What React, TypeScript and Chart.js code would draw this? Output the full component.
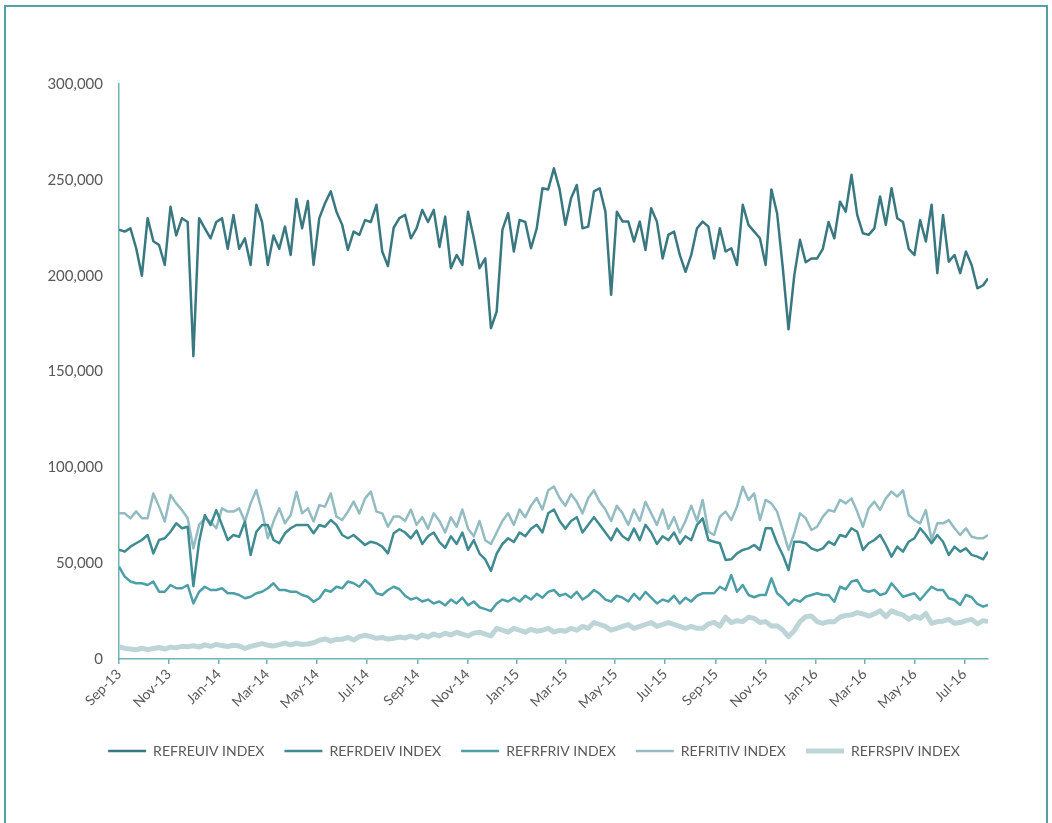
import React, { useEffect, useRef } from "react";
import { Chart, registerables } from "chart.js";

Chart.register(...registerables);

// Sampling: one value every 7 days from 1 Sep 2013, last value on 30 Jul 2016 (day 1063)
const startDate = Date.UTC(2013, 8, 1);
const sampleStep = 7;
const sampleCount = 152;
const lastDay = 1063;
const days: number[] = Array.from({ length: sampleCount }, (_, i) => i * sampleStep).concat([lastDay]);

const tickLabels = [
  "Sep-13", "Nov-13", "Jan-14", "Mar-14", "May-14", "Jul-14", "Sep-14", "Nov-14", "Jan-15",
  "Mar-15", "May-15", "Jul-15", "Sep-15", "Nov-15", "Jan-16", "Mar-16", "May-16", "Jul-16",
];
const monthIdx: Record<string, number> = { Jan: 0, Mar: 2, May: 4, Jul: 6, Sep: 8, Nov: 10 };
const tickDays = tickLabels.map((l) => {
  const [m, y] = l.split("-");
  return Math.round((Date.UTC(2000 + Number(y), monthIdx[m], 1) - startDate) / 86400000);
});

const seriesNames = ["REFREUIV INDEX", "REFRDEIV INDEX", "REFRFRIV INDEX", "REFRITIV INDEX", "REFRSPIV INDEX"];

// values in thousands
const refreuiv = [
  224, 223, 224.7, 214.3, 200, 230, 218, 216, 205.6, 236,
  221, 230, 228, 158, 230, 224.7, 219.5, 228, 230, 214,
  231.7, 214, 219.5, 205.6, 237, 228, 205.6, 221, 214, 225.6,
  210.8, 240, 224.7, 239, 205.6, 230, 237.8, 244, 233.4, 226.5,
  213.4, 223, 221.3, 229, 228, 237, 212.6, 205, 225, 230,
  231.7, 219.5, 224.7, 234.3, 228, 234.3, 215, 230.8, 203.9, 210.8,
  205.6, 233.4, 219.5, 203.9, 209, 172.6, 181.3, 223.9, 232.6, 212.6,
  229.1, 228, 214.3, 224.7, 245.6, 245, 256, 245, 226.5, 240.4,
  247.3, 224.7, 225.6, 244, 245.6, 233.4, 190, 233.4, 228.2, 228.2,
  217.8, 228.2, 213.4, 235.2, 228.2, 209, 221.3, 223, 210.8, 202,
  210.8, 224.7, 228.2, 225.6, 209, 224.7, 212.6, 214.3, 205.6, 237,
  226.5, 223, 219.5, 205.6, 245, 232.6, 204, 172, 200, 218.7,
  207, 209, 209, 214, 228, 219.5, 238.6, 233.4, 252.6, 231.7,
  222.1, 221.3, 224.7, 241.3, 226.5, 245.6, 230, 228, 214, 210.8,
  229, 217.8, 237, 201.3, 231.7, 207.3, 210.8, 201.3, 212.6, 205.6,
  193.4, 195, 198.6,
];

const refrdeiv = [
  57, 56, 58.6, 60.4, 62.1, 64.7, 55.1, 62.1, 63, 66.4,
  70.8, 68.2, 69, 38, 61.2, 75.1, 69.9, 77.7, 69.9, 62.1,
  64.7, 63.8, 71.7, 54.3, 66.4, 69.9, 69.9, 62.1, 60.4, 65.6,
  68.2, 69.9, 69.9, 69.9, 65.6, 69.9, 69, 72.5, 69.9, 64.7,
  63, 64.7, 62.1, 59.5, 61.2, 60.4, 58.6, 55.1, 65.6, 67.7,
  66, 63, 67, 60, 64, 66, 61, 58, 64, 60,
  66, 57, 62, 55, 52, 46, 55, 60, 63, 61,
  66, 64, 68, 70, 66, 76, 78, 72, 68, 72,
  74, 66, 70, 74, 70, 66, 62, 68, 64, 62,
  68, 62, 70, 66, 60, 64, 62, 66, 60, 64,
  62, 70, 73.4, 62.1, 61.2, 60.4, 51.7, 52, 55.1, 56.9,
  57.7, 59.5, 56.9, 68.2, 68.2, 60.4, 54.3, 46.4, 61.2, 61.2,
  60.4, 57.7, 56.5, 57.7, 61.2, 59.5, 64.7, 63.8, 68.2, 66.4,
  56.9, 60.4, 62.1, 64.7, 59.5, 53.4, 58.6, 56, 61.2, 63,
  68.2, 64.7, 60.4, 64.7, 61.2, 54.3, 58.6, 56, 57.7, 54.3,
  53.4, 52, 56,
];

const refrfriv = [
  48.2, 43, 40.4, 39.5, 39.5, 38.6, 40.4, 35.1, 35.1, 38.6,
  36.9, 36.9, 38.6, 29, 35.1, 37.7, 36, 36, 36.9, 34.3,
  34.3, 33.4, 31.7, 32.5, 34.3, 35.1, 36.9, 39.5, 36, 36,
  35.1, 35.1, 33.4, 32.5, 29.9, 31.7, 36, 35.1, 37.7, 36.9,
  40.4, 39.5, 37.7, 41.2, 38.6, 34.3, 33.4, 36, 37.7, 36.4,
  33, 31, 32, 30, 31, 29, 30, 28, 31, 29,
  32, 28, 30, 27, 26, 25, 29, 31, 30, 32,
  30, 33, 31, 34, 32, 35, 36, 33, 34, 32,
  35, 31, 33, 36, 34, 31, 30, 33, 32, 30,
  34, 31, 35, 32, 29, 31, 30, 33, 29, 32,
  30, 33, 34.3, 34.3, 34.3, 37.7, 36, 43.8, 35.1, 38.6,
  33.4, 32.2, 33.4, 33.4, 42.1, 34.3, 31.7, 28.2, 31.1, 29.9,
  32.5, 33.4, 34.3, 33.4, 33.4, 29.9, 37.7, 36.4, 40.4, 41.2,
  36, 35.1, 36, 33.4, 34.3, 39.5, 36, 32.5, 33.4, 34.3,
  30.8, 34.3, 37.7, 36, 36, 31.7, 30.8, 28.2, 33.4, 32.2,
  28.7, 27.3, 28.2,
];

const refritiv = [
  76, 76, 73.4, 77, 73.4, 73.4, 86.4, 79.5, 71.7, 85.6,
  81.2, 77.7, 73.4, 57.7, 70, 73.4, 71.7, 68.2, 78.6, 76.9,
  76.9, 78.6, 71.7, 81.2, 88.2, 76.9, 63, 71.7, 78.6, 70.8,
  75.1, 87.3, 76, 78.6, 71.7, 80.3, 79.5, 86.4, 74.3, 72.5,
  76.9, 82.1, 76, 83.8, 87.3, 76.9, 76, 69, 74.3, 74.3,
  72, 78, 70, 74, 68, 76, 72, 66, 74, 69,
  78, 68, 64, 72, 62, 60, 66, 72, 76, 70,
  78, 74, 80, 84, 78, 88, 90, 84, 80, 86,
  82, 76, 84, 88, 82, 78, 72, 80, 76, 70,
  78, 72, 82, 76, 70, 78, 68, 74, 66, 72,
  80, 72, 83, 66.4, 64.7, 74.3, 76.9, 72.5, 79.5, 89.9,
  83, 86.4, 72.5, 83, 81.2, 76.9, 67.3, 56.9, 65.6, 76,
  73.4, 67.3, 69, 74.3, 77.7, 76.9, 83, 81.2, 83.8, 76.9,
  69, 78.6, 82.1, 77.7, 83.8, 87.3, 84.7, 88, 75.1, 72.5,
  70.8, 77.7, 62.1, 70.8, 70.8, 72.5, 68.2, 64.7, 68.2, 63.8,
  63, 63, 64.7,
];

const refrspiv = [
  6.5, 5.5, 5.2, 4.8, 5.6, 4.9, 5.5, 6, 5.2, 6.2,
  5.8, 6.6, 6.4, 6.9, 6.2, 7.4, 6.6, 7.6, 7, 6.5,
  7.2, 6.8, 5.5, 6.6, 7.3, 8, 7.2, 6.8, 7.5, 8.3,
  7.4, 8.2, 7.6, 7.8, 8.5, 9.8, 10.5, 9.3, 10.2, 10.3,
  11.3, 9.9, 11.7, 12.4, 11.7, 10.8, 11.2, 10.4, 10.8, 11.5,
  11, 12, 11, 12.5, 11.5, 13, 12, 13.5, 12.5, 14,
  13, 12, 13.5, 14, 13, 12, 16, 15, 14, 16,
  15, 14, 15.5, 14.5, 15, 16, 14, 15, 14.5, 16,
  15, 17, 16, 19, 18, 17, 15, 16, 17, 18,
  16, 17, 18, 19, 17, 18, 19, 18, 17, 16,
  17, 16, 16, 18.3, 19.1, 17.2, 21.8, 19, 20, 19.5,
  21.8, 21.2, 19, 19.5, 17.2, 17.4, 15.1, 11.7, 14.8, 19.5,
  22.1, 22.4, 19.5, 18.6, 19.5, 19.5, 21.8, 22.8, 23, 24.2,
  23.5, 22.4, 23.5, 25.2, 22.1, 25.2, 23.8, 23, 20.7, 22.4,
  21.2, 23.8, 18.6, 19.5, 19.7, 20.7, 18.6, 19, 20, 20.7,
  18.3, 20, 19.5,
];

const seriesValues = [refreuiv, refrdeiv, refrfriv, refritiv, refrspiv];
const seriesColors = ["#397880", "#3f8b91", "#4c9fa6", "#93bcc2", "#bdd5d7"];
const seriesWidths = [2.5, 2.5, 2.5, 2.5, 5];

const yTicks = { min: 0, max: 300000, step: 50000 };

const axisColor = "#6fb1b6";
const textColor = "#595959";
const fontFamily = "Lato, 'Open Sans', sans-serif";

// shifts the bottom legend horizontally so that it is centred like the reference
const legendShift = {
  id: "legendShift",
  afterLayout(chart: any) {
    const l = chart.legend;
    if (l) {
      l.left += 40;
      l.right += 40;
    }
  },
};

export default function App() {
  const ref = useRef<HTMLCanvasElement | null>(null);

  useEffect(() => {
    const canvas = ref.current;
    if (!canvas) return;
    const chart = new Chart(canvas, {
      type: "line",
      data: {
        datasets: seriesNames.map((name, s) => ({
          label: name,
          data: seriesValues[s].map((v, i) => ({ x: days[i], y: v * 1000 })),
          borderColor: seriesColors[s],
          backgroundColor: seriesColors[s],
          borderWidth: seriesWidths[s],
          pointRadius: 0,
          pointHoverRadius: 0,
          tension: 0,
          borderJoinStyle: "round" as const,
          fill: false,
        })),
      },
      plugins: [legendShift],
      options: {
        responsive: false,
        animation: false,
        devicePixelRatio: 1,
        layout: { padding: { left: 0, right: 64, top: 84, bottom: 55 } },
        plugins: {
          tooltip: { enabled: false },
          legend: {
            position: "bottom",
            labels: {
              usePointStyle: true,
              pointStyle: "line",
              pointStyleWidth: 38,
              padding: 20,
              color: textColor,
              font: { family: fontFamily, size: 14 },
            },
          },
        },
        scales: {
          x: {
            type: "linear",
            min: 0,
            max: lastDay,
            afterBuildTicks: (scale: any) => {
              scale.ticks = tickDays.map((v) => ({ value: v }));
            },
            afterFit: (scale: any) => {
              scale.height = 65;
            },
            ticks: {
              autoSkip: false,
              maxRotation: 45,
              minRotation: 45,
              padding: 2,
              color: textColor,
              font: { family: fontFamily, size: 14 },
              callback: (_v: any, i: number) => tickLabels[i],
            },
            grid: {
              drawOnChartArea: false,
              drawTicks: true,
              tickLength: 5,
              color: axisColor,
              lineWidth: 1.5,
            },
            border: { display: true, color: axisColor, width: 1.5 },
          },
          y: {
            min: yTicks.min,
            max: yTicks.max,
            afterFit: (scale: any) => {
              scale.width = 119;
            },
            ticks: {
              stepSize: yTicks.step,
              padding: 16,
              color: textColor,
              font: { family: fontFamily, size: 15 },
              callback: (v: any) => Number(v).toLocaleString("en-US"),
            },
            grid: { display: false, drawTicks: false },
            border: { display: true, color: axisColor, width: 1.5 },
          },
        },
      },
    });
    return () => chart.destroy();
  }, []);

  return (
    <>
      <div
        style={{
          position: "fixed",
          left: 4,
          top: 5,
          width: 1040,
          height: 840,
          border: "2px solid #55a0a5",
          background: "#fff",
        }}
      />
      <canvas
        ref={ref}
        width={1052}
        height={823}
        style={{ position: "fixed", left: 0, top: 0, width: 1052, height: 823 }}
      />
    </>
  );
}
